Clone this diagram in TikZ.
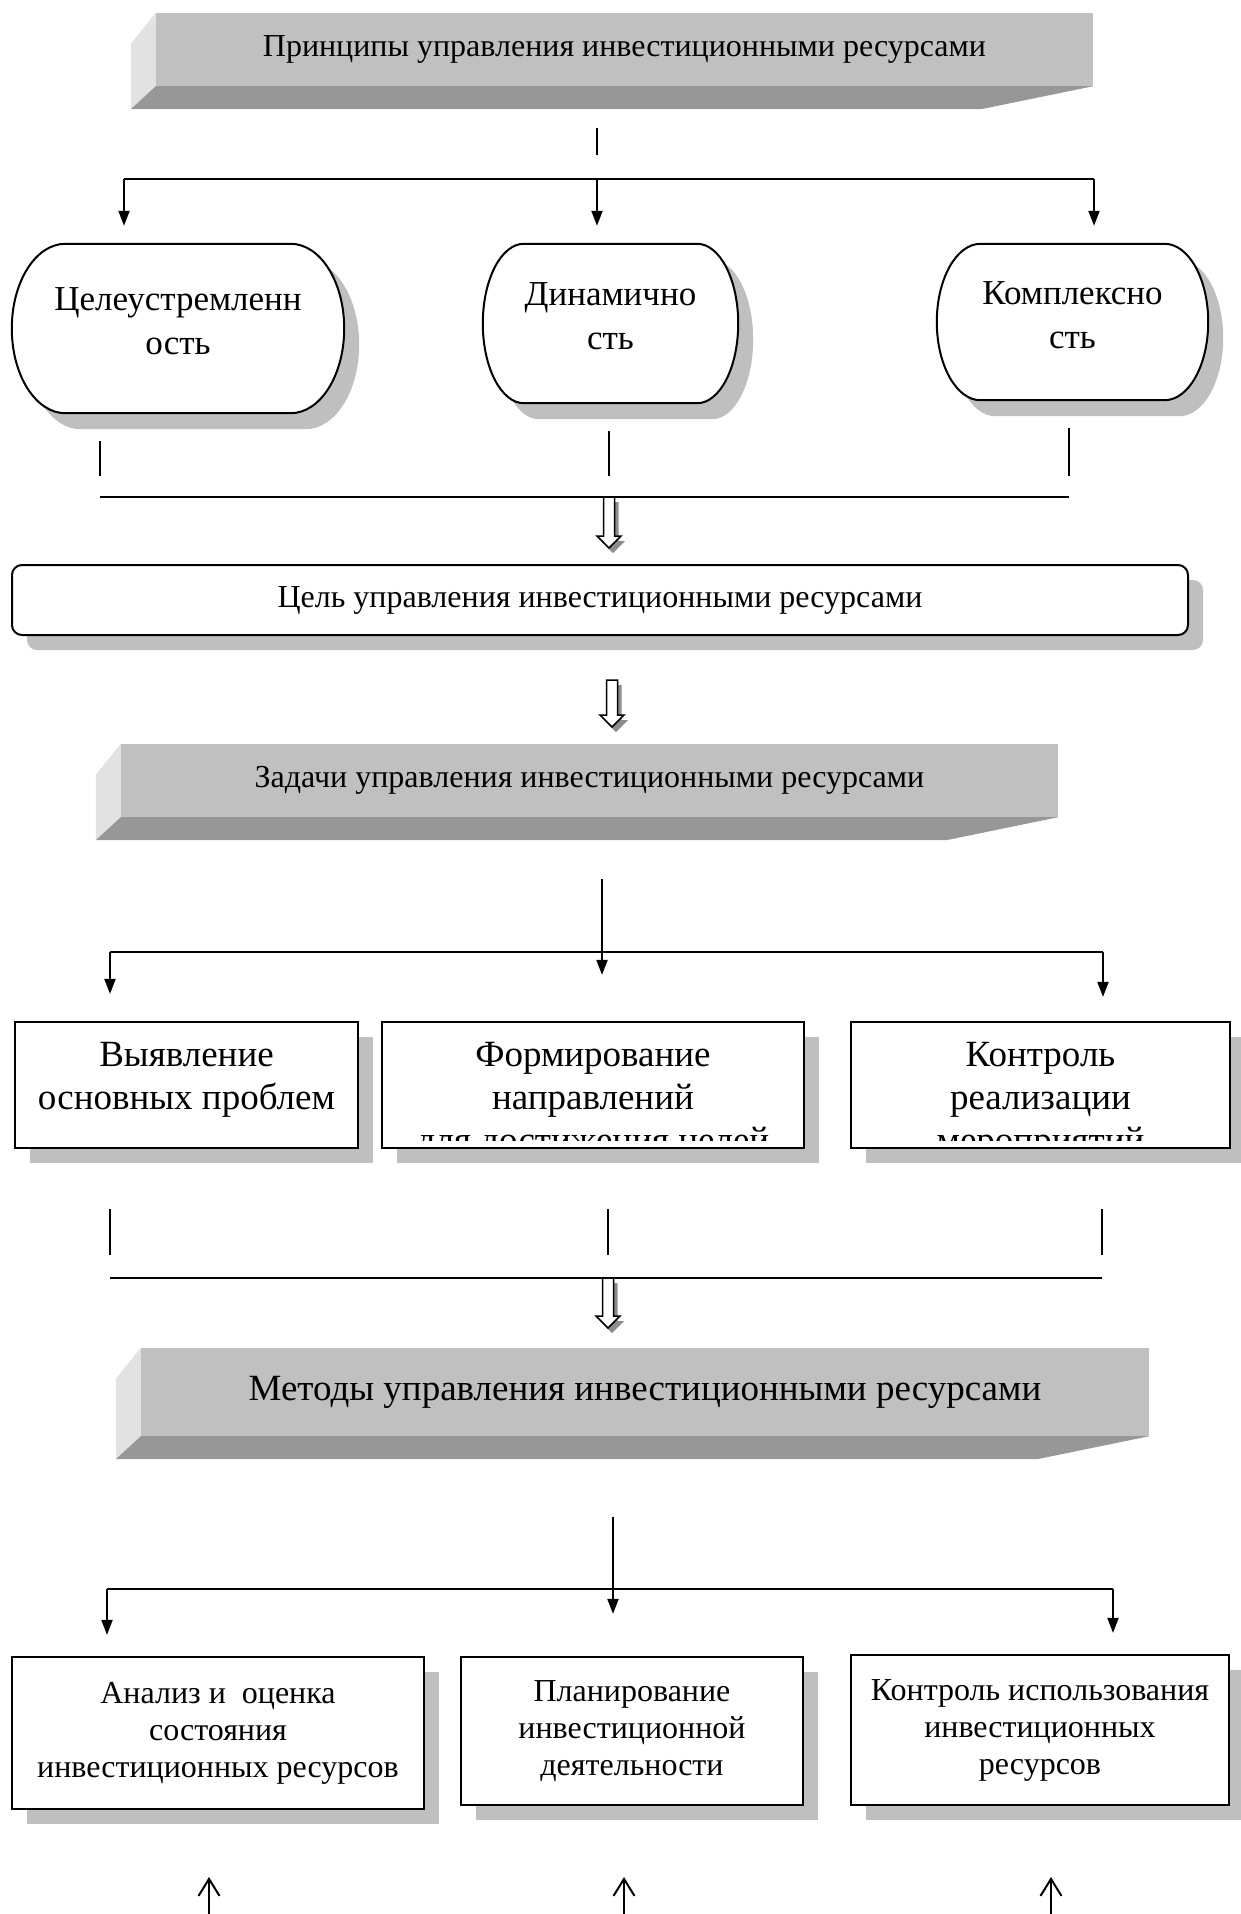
\documentclass[tikz,border=0pt]{standalone}
\usepackage{fontspec}
\setmainfont{Liberation Serif}
\usetikzlibrary{arrows.meta,shadows,backgrounds,calc,positioning}

\definecolor{facegray}{HTML}{C0C0C0}
\definecolor{sidegray}{HTML}{E2E2E2}
\definecolor{basegray}{HTML}{979797}
\definecolor{shadowgray}{HTML}{BFBFBF}
\definecolor{arrowshade}{HTML}{8C8C8C}

% terminator outline round a named node
\newcommand{\termpath}[1]{let \p1=(#1.north west), \p2=(#1.south east),
  \n1={0.161*(\x2-\x1)}, \n2={(\y1-\y2)/2} in
  (\x1+\n1,\y1) -- (\x2-\n1,\y1) arc[start angle=90,end angle=-90,x radius=\n1,y radius=\n2]
  -- (\x1+\n1,\y2) arc[start angle=270,end angle=90,x radius=\n1,y radius=\n2] -- cycle}

\tikzset{
  conn/.style={line width=2pt},
  arr/.style={conn, -{Triangle[length=15pt,width=11pt]}},
  uparr/.style={conn, -{Straight Barb[length=17pt,width=21pt]}},
  slab/.style={fill=facegray, inner sep=0pt},
  plate/.style={draw, line width=2.2pt, fill=white, inner sep=0pt, align=center,
    general shadow={fill=shadowgray, shadow xshift=15pt, shadow yshift=-15pt}},
  ovaltext/.style={inner sep=0pt, align=center, text depth=14pt, font=\fontsize{35}{44}\selectfont},
  normaltext/.style={font=\fontsize{32}{37}\selectfont},
  bigtext/.style={font=\fontsize{37}{43}\selectfont},
  pics/hollowdrop/.style={code={
    \fill[arrowshade] (-1.5,5) -- (9.5,5) -- (9.5,#1-7) -- (16,#1-7) -- (4,#1+5) -- (-8,#1-7) -- (-1.5,#1-7) -- cycle;
    \draw[line width=1.5pt, fill=white] (-5.5,0) -- (5.5,0) -- (5.5,#1-12) -- (12,#1-12) -- (0,#1) -- (-12,#1-12) -- (-5.5,#1-12) -- cycle;
  }}
}

\begin{document}
\begin{tikzpicture}[x=1pt, y=-1pt]
\useasboundingbox (0,0) rectangle (1240,1914);

% grey slabs
\node[slab, normaltext, minimum width=937pt, minimum height=73pt] (principles) at (624.5,49.5) {Принципы управления инвестиционными ресурсами};
\node[slab, normaltext, minimum width=937pt, minimum height=73pt] (tasks) at (589.5,780.5) {Задачи управления инвестиционными ресурсами};
\node[slab, bigtext, minimum width=1008pt, minimum height=88pt] (methods) at (645,1392) {Методы управления инвестиционными ресурсами};
\foreach \s in {principles,tasks,methods}{
  \fill[sidegray] (\s.north west) -- ++(-25,31) -- ([shift={(-25,23)}]\s.south west) -- (\s.south west) -- cycle;
  \fill[basegray] (\s.south west) -- (\s.south east) -- ++(-112,23) -- ([shift={(-25,23)}]\s.south west) -- cycle;
}

% principles
\node[ovaltext, minimum width=332pt, minimum height=169pt] (aimed) at (178,328.5) {Целеустремленн\\ость};
\node[ovaltext, minimum width=255pt, minimum height=159pt] (dynamic) at (610.5,323.5) {Динамично\\сть};
\node[ovaltext, minimum width=271pt, minimum height=156pt] (complex) at (1072.5,322) {Комплексно\\сть};
\begin{scope}[on background layer]
\foreach \s in {aimed,dynamic,complex}{
  \fill[shadowgray, transform canvas={xshift=15pt, yshift=-16pt}] \termpath{\s};
  \draw[conn, fill=white] \termpath{\s};
}
\end{scope}

% goal
\node[plate, normaltext, line width=2pt, rounded corners=10pt, minimum width=1176pt, minimum height=70pt] (goal) at (600,600) {Цель управления инвестиционными ресурсами};

% tasks
\node[plate, minimum width=343pt, minimum height=126pt] (problems) at (186.5,1085) {};
\node[plate, minimum width=422pt, minimum height=126pt] (directions) at (593,1085) {};
\node[plate, minimum width=379pt, minimum height=126pt] (control) at (1040.5,1085) {};
\foreach \s/\t in {problems/{Выявление\\основных проблем},
    directions/{Формирование\\направлений\\для достижения целей},
    control/{Контроль\\реализации\\мероприятий}}{
  \begin{scope}
    \clip (\s.north west) rectangle ([yshift=9pt]\s.south east);
    \node[bigtext, align=center, inner sep=0pt, anchor=north] (\s-txt) at ([yshift=-21pt]\s.north) {\t};
  \end{scope}
}

% methods
\node[plate, normaltext, minimum width=412pt, minimum height=152pt] (analysis) at (218,1733) {Анализ и~ оценка\\состояния\\инвестиционных ресурсов};
\node[plate, normaltext, minimum width=342pt, minimum height=148pt] (planning) at (632,1731) {Планирование\\инвестиционной\\деятельности};
\node[plate, normaltext, minimum width=378pt, minimum height=150pt] (usage) at (1040,1730) {Контроль использования\\инвестиционных\\ресурсов};

% junction points
\coordinate (f1l) at (124,179);
\coordinate (f1m) at (597,179);
\coordinate (f1r) at (1094,179);
\coordinate (j1l) at (100,497);
\coordinate (j1m) at (609,497);
\coordinate (j1r) at (1069,497);
\coordinate (d2) at (612,680);
\coordinate (f2l) at (110,952);
\coordinate (f2m) at (602,952);
\coordinate (f2r) at (1103,952);
\coordinate (j2l) at (110,1278);
\coordinate (j2m) at (608,1278);
\coordinate (j2r) at (1102,1278);
\coordinate (f3l) at (107,1589);
\coordinate (f3m) at (613,1589);
\coordinate (f3r) at (1113,1589);
\coordinate (u1) at (209,1914);
\coordinate (u2) at (624,1914);
\coordinate (u3) at (1051,1914);

% principles -> ovals
\draw[conn, shorten <=42pt, shorten >=24pt] (f1m |- principles.south) -- (f1m);
\draw[conn] (f1l) -- (f1r);
\foreach \c/\s in {f1l/aimed, f1m/dynamic, f1r/complex}
  \draw[arr, shorten >=18pt] (\c) -- (\c |- \s.north);

% ovals -> goal
\foreach \c/\s in {j1l/aimed, j1m/dynamic, j1r/complex}
  \draw[conn, shorten <=28pt, shorten >=21pt] (\c |- \s.south) -- (\c);
\draw[conn] (j1l) -- (j1r);
\pic at (j1m) {hollowdrop=51};

% goal -> tasks
\pic at (d2) {hollowdrop=47};

% tasks -> boxes
\draw[arr, shorten <=62pt, shorten >=46pt] (f2m |- tasks.south) -- (f2m |- problems.north);
\draw[conn] (f2l) -- (f2r);
\draw[arr, shorten >=27pt] (f2l) -- (f2l |- problems.north);
\draw[arr, shorten >=24pt] (f2r) -- (f2r |- control.north);

% boxes -> methods
\foreach \c/\s in {j2l/problems, j2m/directions, j2r/control}
  \draw[conn, shorten <=60pt, shorten >=23pt] (\c |- \s.south) -- (\c);
\draw[conn] (j2l) -- (j2r);
\pic at (j2m) {hollowdrop=50};

% methods -> boxes
\draw[arr, shorten <=81pt, shorten >=42pt] (f3m |- methods.south) -- (f3m |- analysis.north);
\draw[conn] (f3l) -- (f3r);
\draw[arr, shorten >=21pt] (f3l) -- (f3l |- analysis.north);
\draw[arr, shorten >=21pt] (f3r) -- (f3r |- usage.north);

% arrows from below
\foreach \c in {u1,u2,u3}
  \draw[uparr] (\c) -- ++(0,-37);
\end{tikzpicture}
\end{document}
